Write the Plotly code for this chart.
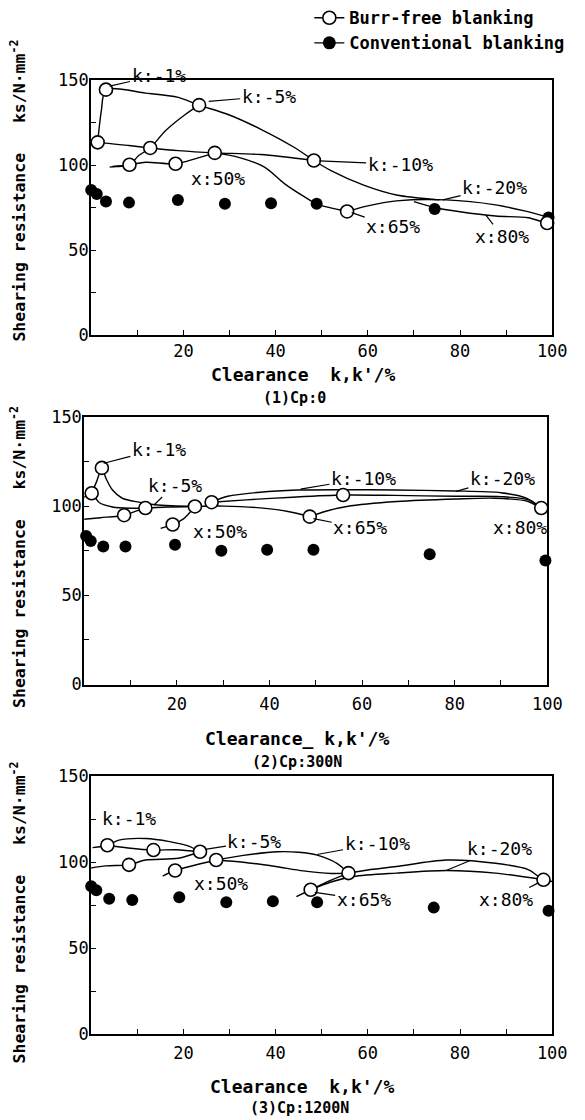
import plotly.graph_objects as go

FONT = "DejaVu Sans Mono"

# ---------------- data: panel 1 (Cp:0) ----------------
p1_conv_x = [0, 1.2, 3.2, 8.2, 18.8, 29, 39, 48.9, 74.5, 99.2]
p1_conv_y = [85.3, 83, 78.5, 77.9, 79.5, 77.2, 77.5, 77.2, 74.2, 69.2]
p1_burr_x = [1.4, 3.2, 8.3, 12.8, 18.3, 23.4, 26.8, 48.3, 55.5, 98.9]
p1_burr_y = [113.4, 144.4, 100.2, 110.1, 100.8, 135.3, 107.2, 102.7, 72.7, 65.9]
p1_c1_x = [1.4, 2.2, 3.2, 11.8, 18.9, 23.4, 29.7, 36.8, 44, 48.3, 51.9, 59.1, 66.2, 75.5]
p1_c1_y = [113.4, 132, 144.4, 142.4, 139.9, 135.3, 129.8, 121.1, 110.5, 102.7, 96.9, 88.2, 82.4, 79.5]
p1_c2_x = [-1.9, 1.4, 8.2, 12.8, 18.9, 26.8, 36.8, 48.3]
p1_c2_y = [114, 113.4, 111.5, 110.1, 108.5, 107.2, 106.2, 102.7]
p1_c3_x = [4.6, 8.3, 10.3, 12.8, 16.1, 20.4, 23.4]
p1_c3_y = [99.2, 100.2, 105.6, 110.1, 120.2, 129.8, 135.3]
p1_c4_x = [4.0, 8.3, 11.8, 18.3, 22.5, 26.8]
p1_c4_y = [98.8, 100.2, 101.7, 100.8, 103.7, 107.2]
p1_c5_x = [26.8, 31.8, 37.6, 41.9, 46.2, 49, 55.5]
p1_c5_y = [107.2, 104.7, 98.8, 89.1, 81.4, 77, 72.7]
p1_c6_x = [55.5, 60, 66.2, 77, 87.7, 94, 99.5]
p1_c6_y = [72.7, 76, 78.9, 79.5, 76.6, 73, 69]
p1_c7_x = [70, 74.5, 80, 87.7, 94.8, 98.9, 101]
p1_c7_y = [78.5, 75, 72.5, 70, 69, 65.9, 66.5]

# ---------------- data: panel 2 (Cp:300N) ----------------
p2_conv_x = [0.4, 1.4, 4.1, 8.9, 19.6, 29.6, 39.5, 49.5, 74.6, 99.6]
p2_conv_y = [83.3, 80.5, 77.3, 77.3, 78.3, 75, 75.5, 75.5, 73, 69.5]
p2_burr_x = [1.6, 3.8, 8.6, 13.2, 19.1, 23.9, 27.5, 48.7, 55.9, 98.7]
p2_burr_y = [107.2, 121.4, 94.9, 98.9, 89.7, 99.8, 102.2, 94.1, 106.2, 98.9]
p2_c1_x = [1.6, 2.7, 3.8, 4.7, 6.1, 8.2, 11.8, 15.3, 19, 23.9]
p2_c1_y = [107.2, 114, 121.4, 115.5, 109, 104.4, 102.2, 100.8, 100.2, 99.8]
p2_c2_x = [-0.5, 1.6, 3.2, 6.1, 10, 13.2, 18, 23.9]
p2_c2_y = [104, 107.2, 102, 99.5, 98.8, 98.9, 99.5, 99.8]
p2_c3_x = [-0.5, 3.5, 8.6, 11, 13.2]
p2_c3_y = [92.5, 93.5, 94.9, 97, 98.9]
p2_c4_x = [16.5, 19.1, 21.5, 23.9]
p2_c4_y = [87.5, 89.7, 93, 99.8]
p2_c5_x = [23.9, 30, 38, 44, 48.7]
p2_c5_y = [99.8, 100, 99, 97, 94.1]
p2_c6_x = [27.5, 31, 38, 46, 55, 67, 80, 90, 95.5, 98.7]
p2_c6_y = [102.2, 105.5, 107.8, 109, 109.2, 109, 108.5, 107.5, 104.5, 98.9]
p2_c7_x = [27.5, 35, 45, 55.9, 67, 80, 90, 96, 98.7]
p2_c7_y = [102.2, 103.5, 105, 106.2, 106, 105.5, 105.3, 103.5, 98.9]
p2_c8_x = [48.7, 52, 56.7, 67.5, 80.3, 88.8, 95.9, 98.7, 103]
p2_c8_y = [94.1, 97, 99.8, 102.6, 104, 104.4, 102.6, 98.9, 97.5]

# ---------------- data: panel 3 (Cp:1200N) ----------------
p3_conv_x = [0, 1.1, 3.9, 8.9, 19.1, 29.3, 39.4, 49, 74.3, 99.2]
p3_conv_y = [86, 83.7, 78.7, 78, 79.7, 76.7, 77.3, 76.7, 73.6, 71.8]
p3_burr_x = [3.5, 8.2, 13.5, 18.2, 23.6, 27.1, 47.6, 55.8, 98.1]
p3_burr_y = [109.9, 98.5, 107.1, 95.2, 106.1, 101.3, 84, 93.7, 89.8]
p3_c1_x = [0.3, 3.5, 6, 11.8, 17, 21, 23.6]
p3_c1_y = [108.5, 109.9, 112.9, 113.8, 112, 109.5, 106.1]
p3_c2_x = [3.5, 8, 13.5, 18.5, 23.6]
p3_c2_y = [109.9, 108.3, 107.1, 107.3, 106.1]
p3_c3_x = [-0.5, 3.2, 8.2, 11.8, 18.9, 23.6]
p3_c3_y = [96.5, 97.9, 98.5, 101.3, 102.3, 106.1]
p3_c4_x = [15.5, 18.2, 22, 27.1]
p3_c4_y = [92, 95.2, 98, 101.3]
p3_c5_x = [27.1, 33, 40.4, 45, 49, 53.3, 55.8]
p3_c5_y = [101.3, 104, 106.1, 105.8, 104.2, 99.4, 93.7]
p3_c6_x = [27.1, 33, 40, 46, 52, 55.8]
p3_c6_y = [101.3, 100, 97.5, 95, 93.5, 93.7]
p3_c7_x = [44.5, 47.6, 51.5, 55.8]
p3_c7_y = [80, 84, 89, 93.7]
p3_c8_x = [55.8, 60, 66.2, 77, 87.7, 94.9, 98.1, 102]
p3_c8_y = [93.7, 95.5, 97.5, 101.3, 99.4, 95.6, 89.8, 88.5]
p3_c9_x = [47.6, 52, 56.9, 66.2, 77, 87.7, 98.1]
p3_c9_y = [84, 88.5, 91.7, 93.7, 95.2, 93.7, 89.8]

x_ticks = [20, 40, 60, 80, 100]
x_minor = [10, 30, 50, 70, 90]
y_ticks = [0, 50, 100, 150]
y_minor = [25, 75, 125]

subtitles = ["(1)Cp:0", "(2)Cp:300N", "(3)Cp:1200N"]
x_titles = ["Clearance\u00a0\u00a0k,k'/%", "Clearance_ k,k'/%", "Clearance\u00a0\u00a0k,k'/%"]
y_title = "Shearing resistance\u00a0\u00a0\u00a0ks/N·mm<sup>-2</sup>"

panels = [
    dict(conv=(p1_conv_x, p1_conv_y), burr=(p1_burr_x, p1_burr_y),
         curves=[(p1_c1_x, p1_c1_y), (p1_c2_x, p1_c2_y), (p1_c3_x, p1_c3_y), (p1_c4_x, p1_c4_y),
                 (p1_c5_x, p1_c5_y), (p1_c6_x, p1_c6_y), (p1_c7_x, p1_c7_y)]),
    dict(conv=(p2_conv_x, p2_conv_y), burr=(p2_burr_x, p2_burr_y),
         curves=[(p2_c1_x, p2_c1_y), (p2_c2_x, p2_c2_y), (p2_c3_x, p2_c3_y), (p2_c4_x, p2_c4_y),
                 (p2_c5_x, p2_c5_y), (p2_c6_x, p2_c6_y), (p2_c7_x, p2_c7_y), (p2_c8_x, p2_c8_y)]),
    dict(conv=(p3_conv_x, p3_conv_y), burr=(p3_burr_x, p3_burr_y),
         curves=[(p3_c1_x, p3_c1_y), (p3_c2_x, p3_c2_y), (p3_c3_x, p3_c3_y), (p3_c4_x, p3_c4_y),
                 (p3_c5_x, p3_c5_y), (p3_c6_x, p3_c6_y), (p3_c7_x, p3_c7_y), (p3_c8_x, p3_c8_y),
                 (p3_c9_x, p3_c9_y)]),
]

# label layout: (text, text_x, text_y, tip_x, tip_y) ; tip None -> no leader
labels = [
    [("k:-1%", 14.6, 153, 4, 146.5), ("k:-5%", 38.5, 140.5, 25.5, 137.5),
     ("k:-10%", 67, 100.5, 49.5, 102.5), ("k:-20%", 87.5, 87, 76.3, 79.5),
     ("x:50%", 27.5, 92, None, None), ("x:65%", 65.5, 63.7, 56.5, 72),
     ("x:80%", 89.2, 58, 85.6, 70.5)],
    [("k:-1%", 16.1, 132, 4.2, 124), ("k:-5%", 19.5, 111.8, 15, 100.5),
     ("k:-10%", 60.3, 115.5, 46.7, 109.5), ("k:-20%", 90.3, 115.5, 80.3, 108.3),
     ("x:50%", 29.3, 86, None, None), ("x:65%", 59.6, 87.8, 49.5, 93),
     ("x:80%", 94, 87.8, None, None)],
    [("k:-1%", 8.2, 125.3, None, None), ("k:-5%", 35.4, 111.9, 24.7, 107.5),
     ("k:-10%", 62, 110.9, 49, 104.5), ("k:-20%", 88.5, 108, 77, 95.2),
     ("x:50%", 28.2, 87.9, None, None), ("x:65%", 59.1, 78.3, 48.5, 82.5),
     ("x:80%", 89.9, 78.3, 97, 88)],
]

# target picture size (reference pixels) and the size the figure is laid out at
W, H = 585, 1120
FW, FH = 595, 1130
x_dom = [(92, 557), (85, 552), (92, 557)]
y_dom = [(67, 325), (408, 679), (772, 1033)]
xt_pos = [(306, 365), (300, 734), (305, 1086)]
st_pos = [(297, 389), (300, 757), (302, 1108)]
yt_pos = [179, 550, 910]
x_standoff = [0, 3, 3]

fig = go.Figure()
annotations = []
layout = {}

for i, p in enumerate(panels):
    sfx = "" if i == 0 else str(i + 1)
    xa, ya = "x" + sfx, "y" + sfx
    for cx, cy in p["curves"]:
        fig.add_trace(go.Scatter(x=cx, y=cy, xaxis=xa, yaxis=ya, mode="lines",
                                 line=dict(color="black", width=1.4, shape="spline", smoothing=0.8),
                                 showlegend=False, hoverinfo="skip"))
    fig.add_trace(go.Scatter(x=p["conv"][0], y=p["conv"][1], xaxis=xa, yaxis=ya, mode="markers",
                             marker=dict(symbol="circle", size=12, color="black"),
                             showlegend=False, cliponaxis=False))
    fig.add_trace(go.Scatter(x=p["burr"][0], y=p["burr"][1], xaxis=xa, yaxis=ya, mode="markers",
                             marker=dict(symbol="circle", size=13, color="white",
                                         line=dict(color="black", width=1.6)),
                             showlegend=False, cliponaxis=False))
    axis_common = dict(showline=True, linecolor="black", linewidth=2, mirror=True,
                       showgrid=False, zeroline=False, ticks="inside", ticklen=5,
                       tickcolor="black", tickfont=dict(family=FONT, size=17, color="black"))
    layout["xaxis" + sfx] = dict(axis_common, domain=[x_dom[i][0] / W, x_dom[i][1] / W],
                                 range=[0, 100], tickvals=x_ticks, anchor=ya,
                                 ticklabelstandoff=x_standoff[i],
                                 minor=dict(tickvals=x_minor, ticks="inside", ticklen=5, tickcolor="black"))
    layout["yaxis" + sfx] = dict(axis_common, domain=[1 - y_dom[i][1] / H, 1 - y_dom[i][0] / H],
                                 range=[0, 150], tickvals=y_ticks, anchor=xa, ticklabelstandoff=-3,
                                 minor=dict(tickvals=y_minor, ticks="inside", ticklen=5, tickcolor="black"))
    for (txt, tx, ty, px, py) in labels[i]:
        a = dict(text=txt, xref=xa, yref=ya, xanchor="center", yanchor="middle",
                 font=dict(family=FONT, size=18, color="black"))
        if px is None:
            a.update(x=tx, y=ty, showarrow=False)
        else:
            a.update(x=px, y=py, ax=tx, ay=ty, axref=xa, ayref=ya, showarrow=True,
                     arrowhead=0, arrowwidth=1.2, arrowcolor="black", standoff=0)
        annotations.append(a)
    annotations.append(dict(text=x_titles[i], xref="paper", yref="paper",
                            xanchor="center", yanchor="middle",
                            x=xt_pos[i][0] / W, y=1 - xt_pos[i][1] / H, showarrow=False,
                            font=dict(family=FONT, size=18, color="black", weight="bold")))
    annotations.append(dict(text=subtitles[i], xref="paper", yref="paper",
                            xanchor="center", yanchor="middle",
                            x=st_pos[i][0] / W, y=1 - st_pos[i][1] / H, showarrow=False,
                            font=dict(family=FONT, size=15, color="black", weight="bold")))
    annotations.append(dict(text=y_title, xref="paper", yref="paper", textangle=-90,
                            xanchor="center", yanchor="middle",
                            x=18 / W, y=1 - yt_pos[i] / H, showarrow=False,
                            font=dict(family=FONT, size=16.5, color="black", weight="bold")))

# legend entries
fig.add_trace(go.Scatter(x=[None], y=[None], mode="lines+markers", name="Burr-free blanking",
                         line=dict(color="black", width=1.4),
                         marker=dict(size=13, color="white", line=dict(color="black", width=1.6))))
fig.add_trace(go.Scatter(x=[None], y=[None], mode="lines+markers", name="Conventional blanking",
                         line=dict(color="black", width=1.4),
                         marker=dict(size=13, color="black")))

fig.update_layout(**layout)
fig.update_layout(
    width=FW, height=FH, margin=dict(l=0, r=0, t=0, b=0),
    paper_bgcolor="white", plot_bgcolor="white",
    annotations=annotations,
    legend=dict(x=312 / W, y=1 + 14 / H, xanchor="left", yanchor="top",
                font=dict(family=FONT, size=17, color="black", weight="bold"),
                bgcolor="rgba(0,0,0,0)", tracegroupgap=0, itemwidth=30),
    showlegend=True,
)

fig.write_html("out.html", config={"displayModeBar": False},
               post_script="document.body.style.margin='0';document.documentElement.style.overflow='hidden';document.body.style.overflow='hidden';")
